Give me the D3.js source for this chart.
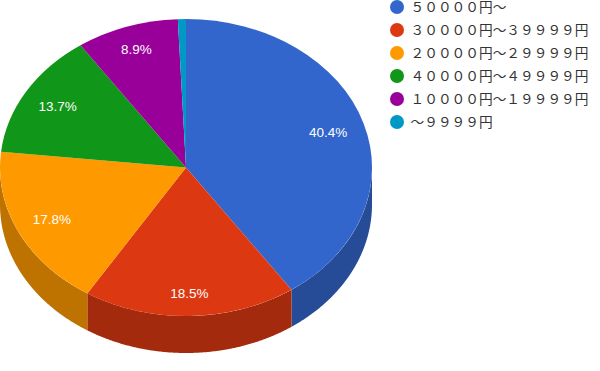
<!DOCTYPE html>
<html>
<head>
<meta charset="utf-8">
<script src="https://cdn.jsdelivr.net/npm/d3@7"></script>
<style>
  html, body { margin: 0; padding: 0; background: #fff; }
  svg { display: block; }
</style>
</head>
<body>
<script>
// chart data
var categories = ["５００００円～", "３００００円～３９９９９円", "２００００円～２９９９９円",
                  "４００００円～４９９９９円", "１００００円～１９９９９円", "～９９９９円"];
var values = [40.4, 18.5, 17.8, 13.7, 8.9, 0.7];
var labels = ["40.4%", "18.5%", "17.8%", "13.7%", "8.9%", ""];
var colours = ["#3366cc", "#dc3912", "#ff9900", "#109618", "#990099", "#0099c6"];

var width = 600, height = 371;
var cx = 186, cy = 167.5, rx = 186, ry = 148.5, depth = 37;

var svg = d3.select("body").append("svg")
  .attr("width", width)
  .attr("height", height);

var pie = d3.pie().sort(null).value(function(d) { return d; });
var slices = pie(values);

// side wall, only the front half of the pie can be seen
var wall = d3.area()
  .x(function(a) { return cx + rx * Math.sin(a); })
  .y0(function(a) { return cy - ry * Math.cos(a); })
  .y1(function(a) { return cy - ry * Math.cos(a) + depth; });

svg.append("g")
  .selectAll("path")
  .data(slices)
  .enter()
  .append("path")
    .attr("fill", function(d, i) { return d3.rgb(colours[i]).darker(0.83); })
    .attr("d", function(d) {
      var a0 = Math.max(d.startAngle, Math.PI / 2);
      var a1 = Math.min(d.endAngle, Math.PI * 1.5);
      if (a0 >= a1) return null;
      return wall(d3.range(a0, a1, 0.005).concat([a1]));
    });

// top face, a circle squashed to the ellipse
var arc = d3.arc().innerRadius(0).outerRadius(rx);

svg.append("g")
    .attr("transform", "translate(" + cx + "," + cy + ") scale(1," + (ry / rx) + ")")
  .selectAll("path")
  .data(slices)
  .enter()
  .append("path")
    .attr("fill", function(d, i) { return colours[i]; })
    .attr("d", arc);

// labels sit a bit further out near the top and the bottom of the pie
function labelPos(d) {
  var mid = (d.startAngle + d.endAngle) / 2;
  var c = Math.cos(mid);
  var k = 0.8 + 0.05 * c * c * c * c;
  return [cx + rx * k * Math.sin(mid), cy - ry * k * c];
}

svg.append("g")
  .selectAll("text")
  .data(slices)
  .enter()
  .append("text")
    .attr("x", function(d) { return labelPos(d)[0]; })
    .attr("y", function(d) { return labelPos(d)[1] + 4.5; })
    .attr("text-anchor", "middle")
    .attr("font-family", "Liberation Sans, Arial, sans-serif")
    .attr("font-size", 13.5)
    .attr("fill", "#fff")
    .text(function(d, i) { return labels[i]; });

// legend
var legendY = d3.scalePoint()
  .domain(categories)
  .range([7, 122]);

var legend = svg.append("g")
  .selectAll("g")
  .data(categories)
  .enter()
  .append("g")
    .attr("transform", function(d) { return "translate(397," + legendY(d) + ")"; });

legend.append("circle")
  .attr("r", 7)
  .attr("fill", function(d, i) { return colours[i]; });

// latin font first: its smaller ascent keeps the first row's box inside the page
legend.append("text")
  .attr("x", 13.5)
  .attr("y", 5)
  .attr("font-family", "Liberation Sans, Noto Sans CJK JP, sans-serif")
  .attr("font-size", 13.7)
  .attr("fill", "#333")
  .text(function(d) { return d; });
</script>
</body>
</html>
